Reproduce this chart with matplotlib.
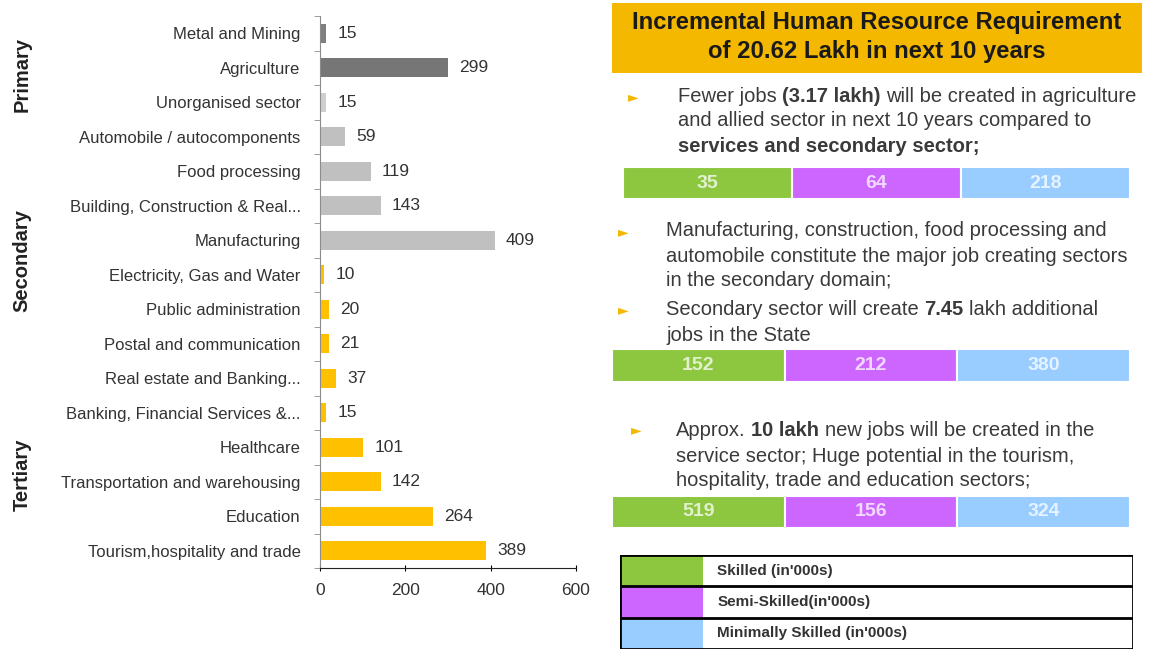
import numpy as np
import matplotlib
matplotlib.use("Agg")
import matplotlib.pyplot as plt
from matplotlib.patches import Rectangle
import matplotlib.transforms as mtransforms

plt.rcParams['font.family'] = ['Liberation Sans', 'DejaVu Sans']

# ---- data ----
sectors = ["Metal and Mining", "Agriculture", "Unorganised sector",
           "Automobile / autocomponents", "Food processing",
           "Building, Construction & Real...", "Manufacturing",
           "Electricity, Gas and Water", "Public administration",
           "Postal and communication", "Real estate and Banking...",
           "Banking, Financial Services &...", "Healthcare",
           "Transportation and warehousing", "Education",
           "Tourism,hospitality and trade"]
jobs = [15, 299, 15, 59, 119, 143, 409, 10, 20, 21, 37, 15, 101, 142, 264, 389]
bar_colors = ["#7f7f7f", "#767676", "#cfcfcf", "#c0c0c0", "#c0c0c0", "#c0c0c0",
              "#c0c0c0", "#ffc000", "#ffc000", "#ffc000", "#ffc000", "#ffc000",
              "#ffc000", "#ffc000", "#ffc000", "#ffc000"]
groups = ["Primary", "Secondary", "Tertiary"]
group_pos = [1.2, 6.6, 12.8]
xticks = [0, 200, 400, 600]

skill_names = ["Skilled (in'000s)", "Semi-Skilled(in'000s)", "Minimally Skilled (in'000s)"]
skill_colors = ["#8dc63f", "#cc66ff", "#99ccff"]
primary_split = [35, 64, 218]
secondary_split = [152, 212, 380]
tertiary_split = [519, 156, 324]

title = "Incremental Human Resource Requirement\nof 20.62 Lakh in next 10 years"

W, H = 1155, 649
fig = plt.figure(figsize=(W / 100, H / 100), dpi=100)
fig.patch.set_facecolor("white")

def fx(px):
    return px / W

def fy(py):
    return 1 - py / H

# ---- left bar chart ----
ax = fig.add_axes([fx(320), fy(568), fx(576) - fx(320), fy(16) - fy(568)])
y = np.arange(len(sectors))
bars = ax.barh(y, jobs, height=0.56, color=bar_colors)
ax.bar_label(bars, padding=8, fontsize=12.5, color="#333333")
ax.set_ylim(len(sectors) - 0.5, -0.5)
ax.set_xlim(0, 600)
ax.set_xticks(xticks)
ax.set_yticks(y)
ax.set_yticklabels(sectors, fontsize=12, color="#333333")
ax.set_yticks(np.arange(len(sectors) + 1) - 0.5, minor=True)
ax.tick_params(axis="y", which="major", length=0, pad=14)
ax.tick_params(axis="y", which="minor", length=4, color="#8c8c8c")
ax.tick_params(axis="x", length=5, direction="inout", labelsize=12.5, pad=8, labelcolor="#333333")
for s in ["top", "right"]:
    ax.spines[s].set_visible(False)
ax.spines["left"].set_color("#8c8c8c")
ax.spines["bottom"].set_color("#222222")

trans = mtransforms.blended_transform_factory(fig.transFigure, ax.transData)
for g, p in zip(groups, group_pos):
    fig.text(fx(22), p, g, transform=trans, rotation=90, fontsize=14.5,
             fontweight="bold", ha="center", va="center", color="#222222")

# ---- title box ----
fig.patches.append(Rectangle((fx(612), fy(73)), fx(1142) - fx(612), fy(3) - fy(73),
                             transform=fig.transFigure, facecolor="#f5b800",
                             edgecolor="none", zorder=0))
fig.text(fx(877), fy(37), title, ha="center", va="center", fontsize=17.2,
         fontweight="bold", color="#1a1a1a", linespacing=1.3)

# ---- bullet text ----
renderer = fig.canvas.get_renderer()
text_color = "#3a3a3a"
fsize = 14.5

def space_width(weight):
    a = fig.text(0, 0, "x x", fontsize=fsize, fontweight=weight)
    b = fig.text(0, 0, "xx", fontsize=fsize, fontweight=weight)
    w = a.get_window_extent(renderer).width - b.get_window_extent(renderer).width
    a.remove()
    b.remove()
    return w

sp = {"normal": space_width("normal"), "bold": space_width("bold")}

def rich_line(x, yy, parts):
    xpix = x
    for s, bold in parts:
        weight = "bold" if bold else "normal"
        lead = len(s) - len(s.lstrip(" "))
        trail = len(s) - len(s.rstrip(" "))
        xpix += lead * sp[weight]
        t = fig.text(fx(xpix), fy(yy), s.strip(" "), fontsize=fsize,
                     fontweight=weight, color=text_color, ha="left", va="center")
        xpix += t.get_window_extent(renderer).width + trail * sp[weight]

def bullet(x, yy):
    fig.text(fx(x), fy(yy), "\u25ba", fontsize=10, color="#f5b800",
             ha="center", va="center", family="DejaVu Sans")

bullet(633, 97)
rich_line(678, 97, [("Fewer jobs ", False), ("(3.17 lakh)", True), (" will be created in agriculture", False)])
rich_line(678, 121, [("and allied sector in next 10 years compared to", False)])
rich_line(678, 146, [("services and secondary sector;", True)])

bullet(623, 232)
rich_line(666, 231, [("Manufacturing, construction, food processing and", False)])
rich_line(666, 256, [("automobile constitute the major job creating sectors", False)])
rich_line(666, 281, [("in the secondary domain;", False)])

bullet(623, 310)
rich_line(666, 310, [("Secondary sector will create ", False), ("7.45", True), (" lakh additional", False)])
rich_line(666, 335, [("jobs in the State", False)])

bullet(636, 430)
rich_line(676, 430, [("Approx. ", False), ("10 lakh", True), (" new jobs will be created in the", False)])
rich_line(676, 456, [("service sector; Huge potential in the tourism,", False)])
rich_line(676, 480, [("hospitality, trade and education sectors;", False)])

# ---- stacked skill bars ----
def skill_bar(x0, x1, y0, y1, values):
    bax = fig.add_axes([fx(x0), fy(y1), fx(x1) - fx(x0), fy(y0) - fy(y1)])
    pos = np.arange(len(values))
    bax.barh(0, [1] * len(values), left=pos, height=1, color=skill_colors,
             edgecolor="white", linewidth=1.5)
    for p, v in zip(pos, values):
        bax.text(p + 0.5, 0, str(v), ha="center", va="center", fontsize=14,
                 fontweight="bold", color="white", alpha=0.75)
    bax.set_xlim(0, len(values))
    bax.set_ylim(-0.5, 0.5)
    bax.axis("off")

skill_bar(623, 1130, 167, 199, primary_split)
skill_bar(612, 1130, 349, 382, secondary_split)
skill_bar(612, 1130, 496, 528, tertiary_split)

# ---- legend table ----
lax = fig.add_axes([fx(620), 0, fx(1133) - fx(620), fy(555)])
lax.set_xlim(0, 1)
lax.set_ylim(3, 0)
sw = (703 - 620) / (1133 - 620)
for i, (name, c) in enumerate(zip(skill_names, skill_colors)):
    lax.add_patch(Rectangle((0, i), sw, 1, facecolor=c, edgecolor="none"))
    lax.text(sw + 0.028, i + 0.5, name, fontsize=11, fontweight="bold",
             color="#333333", ha="left", va="center")
    lax.axhline(i, color="black", lw=2)
lax.axhline(3, color="black", lw=2)
lax.axvline(0, color="black", lw=2)
lax.axvline(1, color="black", lw=2)
lax.axis("off")

fig.savefig("out.png", dpi=100)
